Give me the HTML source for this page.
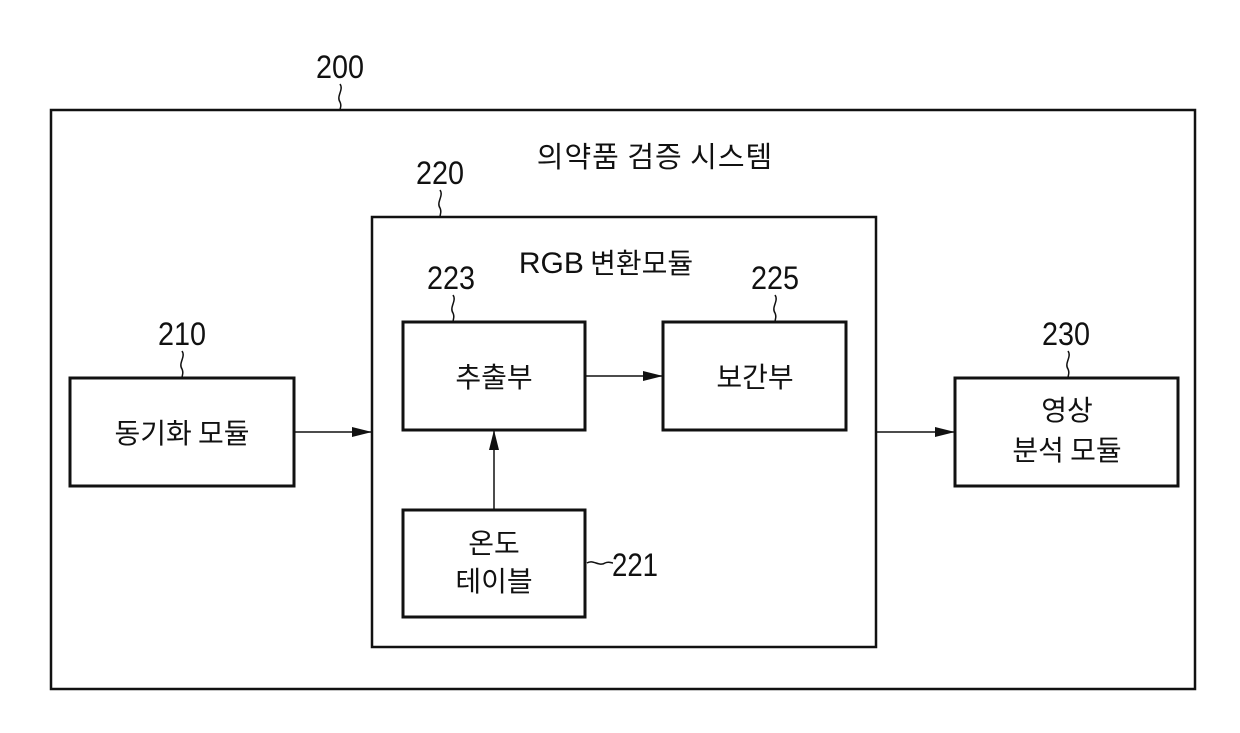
<!DOCTYPE html>
<html><head><meta charset="utf-8"><style>
html,body{margin:0;padding:0;background:#fff;}
svg{display:block}
text{font-family:"Liberation Sans","Noto Sans CJK KR",sans-serif;fill:#111;}
.k{font-size:28px;text-anchor:middle;font-family:"Noto Sans CJK KR","NanumGothic",sans-serif;}
.n{font-size:32px;}
</style></head><body>
<svg width="1240" height="733" viewBox="0 0 1240 733" xmlns="http://www.w3.org/2000/svg">
<defs><marker id="a" markerWidth="20" markerHeight="10" refX="20" refY="5" orient="auto" markerUnits="userSpaceOnUse"><path d="M0,0 L20,5 L0,10 Z" fill="#111"/></marker></defs>
<g fill="none" stroke="#111">
<rect x="51" y="110" width="1144" height="579" stroke-width="2.5"/>
<rect x="372" y="217" width="504" height="430" stroke-width="2.5"/>
<g stroke-width="3">
<rect x="403" y="322" width="182" height="108"/>
<rect x="663" y="322" width="183" height="108"/>
<rect x="70" y="378" width="224" height="108"/>
<rect x="955" y="378" width="223" height="108"/>
<rect x="403" y="510" width="182" height="107"/>
</g>
<g stroke-width="1.5">
<path d="M340,84 c4,6 -4,12 0,18 c2,4 0,6 0,8"/>
<path d="M440,190 c4,6 -4,12 0,18 c2,4 0,6 0,9"/>
<path d="M453,295 c4,6 -4,12 0,18 c2,4 0,6 0,9"/>
<path d="M775,295 c4,6 -4,12 0,18 c2,4 0,6 0,9"/>
<path d="M182,351 c4,6 -4,12 0,18 c2,4 0,6 0,9"/>
<path d="M1068,351 c4,6 -4,12 0,18 c2,4 0,6 0,9"/>
<path d="M587,563 c6,-4 12,4 18,0 c4,-2 6,0 8,0"/>
<line x1="294" y1="432" x2="372" y2="432" marker-end="url(#a)"/>
<line x1="585" y1="376" x2="663" y2="376" marker-end="url(#a)"/>
<line x1="876" y1="432" x2="955" y2="432" marker-end="url(#a)"/>
<line x1="494" y1="510" x2="494" y2="430" marker-end="url(#a)"/>
</g>
</g>
<text class="n" x="316" y="78" textLength="48" lengthAdjust="spacingAndGlyphs">200</text>
<text class="n" x="416" y="184" textLength="48" lengthAdjust="spacingAndGlyphs">220</text>
<text class="n" x="427" y="289" textLength="48" lengthAdjust="spacingAndGlyphs">223</text>
<text class="n" x="751" y="289" textLength="48" lengthAdjust="spacingAndGlyphs">225</text>
<text class="n" x="158" y="345" textLength="48" lengthAdjust="spacingAndGlyphs">210</text>
<text class="n" x="1042" y="345" textLength="48" lengthAdjust="spacingAndGlyphs">230</text>
<text class="n" x="612" y="576" textLength="46" lengthAdjust="spacingAndGlyphs">221</text>
<text class="k" x="655" y="167" style="font-size:29px;letter-spacing:1px">의약품 검증 시스템</text>
<text class="k" x="606" y="273"><tspan font-family="Liberation Sans" font-size="30">RGB</tspan> 변환모듈</text>
<text class="k" x="494" y="387">추출부</text>
<text class="k" x="755" y="387">보간부</text>
<text class="k" x="182" y="443">동기화 모듈</text>
<text class="k" x="1067" y="420">영상</text>
<text class="k" x="1067" y="460">분석 모듈</text>
<text class="k" x="494" y="553">온도</text>
<text class="k" x="494" y="591">테이블</text>
</svg>
</body></html>
